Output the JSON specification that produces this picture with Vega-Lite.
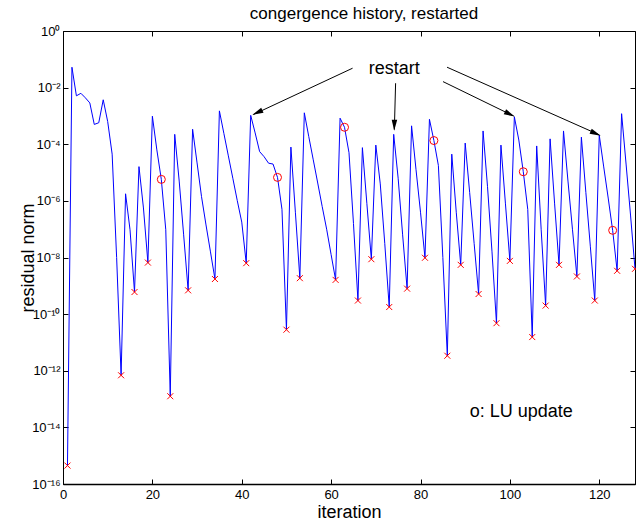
{
  "$schema": "https://vega.github.io/schema/vega-lite/v6.json",
  "width": 572,
  "height": 453,
  "autosize": {"type": "none"},
  "padding": {"left": 63, "top": 31, "right": 1, "bottom": 37},
  "title": {"text": "congergence history, restarted", "fontSize": 17, "fontWeight": "normal", "font": "Liberation Sans", "color": "black", "anchor": "middle", "frame": "group", "baseline": "alphabetic", "offset": 11, "dx": 15, "dy": 22},
  "config": {
    "font": "Liberation Sans",
    "view": {"stroke": "black", "strokeWidth": 1},
    "axis": {"grid": false, "domain": false, "ticks": true, "tickSize": -5, "tickColor": "black", "tickWidth": 1, "labelColor": "black", "labelFontSize": 13, "labelFont": "Liberation Sans", "labelFlush": false, "titleColor": "black", "titleFontWeight": "normal", "titleFontSize": 18, "titleFont": "Liberation Sans"}
  },
  "datasets": {
    "main": [
      {"iter": 1, "residual": 4.47e-16, "marker": "x"},
      {"iter": 2, "residual": 5.25e-2, "marker": ""},
      {"iter": 3, "residual": 5.13e-3, "marker": ""},
      {"iter": 4, "residual": 6.31e-3, "marker": ""},
      {"iter": 5, "residual": 4.37e-3, "marker": ""},
      {"iter": 6, "residual": 2.88e-3, "marker": ""},
      {"iter": 7, "residual": 5.01e-4, "marker": ""},
      {"iter": 8, "residual": 5.75e-4, "marker": ""},
      {"iter": 9, "residual": 3.72e-3, "marker": ""},
      {"iter": 10, "residual": 6.31e-4, "marker": ""},
      {"iter": 11, "residual": 4.47e-5, "marker": ""},
      {"iter": 12, "residual": 1.0e-8, "marker": ""},
      {"iter": 13, "residual": 6.92e-13, "marker": "x"},
      {"iter": 14, "residual": 1.78e-6, "marker": ""},
      {"iter": 15, "residual": 9.55e-8, "marker": ""},
      {"iter": 16, "residual": 6.03e-10, "marker": "x"},
      {"iter": 17, "residual": 1.62e-5, "marker": ""},
      {"iter": 18, "residual": 5.62e-7, "marker": ""},
      {"iter": 19, "residual": 6.61e-9, "marker": "x"},
      {"iter": 20, "residual": 9.77e-4, "marker": ""},
      {"iter": 21, "residual": 6.31e-5, "marker": ""},
      {"iter": 22, "residual": 5.75e-6, "marker": "o"},
      {"iter": 23, "residual": 9.55e-8, "marker": ""},
      {"iter": 24, "residual": 1.26e-13, "marker": "x"},
      {"iter": 25, "residual": 2.24e-4, "marker": ""},
      {"iter": 26, "residual": 5.01e-6, "marker": ""},
      {"iter": 27, "residual": 6.31e-8, "marker": ""},
      {"iter": 28, "residual": 6.92e-10, "marker": "x"},
      {"iter": 29, "residual": 3.39e-4, "marker": ""},
      {"iter": 30, "residual": 2.19e-5, "marker": ""},
      {"iter": 31, "residual": 1.41e-6, "marker": ""},
      {"iter": 32, "residual": 1.41e-7, "marker": ""},
      {"iter": 33, "residual": 1.58e-8, "marker": ""},
      {"iter": 34, "residual": 1.74e-9, "marker": "x"},
      {"iter": 35, "residual": 1.51e-3, "marker": ""},
      {"iter": 36, "residual": 2.40e-4, "marker": ""},
      {"iter": 37, "residual": 3.89e-5, "marker": ""},
      {"iter": 38, "residual": 6.31e-6, "marker": ""},
      {"iter": 39, "residual": 1.02e-6, "marker": ""},
      {"iter": 40, "residual": 1.78e-7, "marker": ""},
      {"iter": 41, "residual": 6.31e-9, "marker": "x"},
      {"iter": 42, "residual": 1.05e-3, "marker": ""},
      {"iter": 43, "residual": 2.51e-4, "marker": ""},
      {"iter": 44, "residual": 5.50e-5, "marker": ""},
      {"iter": 45, "residual": 3.63e-5, "marker": ""},
      {"iter": 46, "residual": 2.14e-5, "marker": ""},
      {"iter": 47, "residual": 2.00e-5, "marker": ""},
      {"iter": 48, "residual": 6.76e-6, "marker": "o"},
      {"iter": 49, "residual": 5.01e-7, "marker": ""},
      {"iter": 50, "residual": 2.82e-11, "marker": "x"},
      {"iter": 51, "residual": 7.94e-5, "marker": ""},
      {"iter": 52, "residual": 3.98e-7, "marker": ""},
      {"iter": 53, "residual": 1.86e-9, "marker": "x"},
      {"iter": 54, "residual": 1.29e-3, "marker": ""},
      {"iter": 55, "residual": 1.86e-4, "marker": ""},
      {"iter": 56, "residual": 2.82e-5, "marker": ""},
      {"iter": 57, "residual": 4.27e-6, "marker": ""},
      {"iter": 58, "residual": 6.31e-7, "marker": ""},
      {"iter": 59, "residual": 1.0e-7, "marker": ""},
      {"iter": 60, "residual": 1.26e-8, "marker": ""},
      {"iter": 61, "residual": 1.62e-9, "marker": "x"},
      {"iter": 62, "residual": 8.32e-4, "marker": ""},
      {"iter": 63, "residual": 3.98e-4, "marker": "o"},
      {"iter": 64, "residual": 5.01e-5, "marker": ""},
      {"iter": 65, "residual": 1.58e-7, "marker": ""},
      {"iter": 66, "residual": 3.02e-10, "marker": "x"},
      {"iter": 67, "residual": 7.59e-5, "marker": ""},
      {"iter": 68, "residual": 7.94e-7, "marker": ""},
      {"iter": 69, "residual": 8.71e-9, "marker": "x"},
      {"iter": 70, "residual": 9.33e-5, "marker": ""},
      {"iter": 71, "residual": 3.98e-6, "marker": ""},
      {"iter": 72, "residual": 3.16e-8, "marker": ""},
      {"iter": 73, "residual": 1.78e-10, "marker": "x"},
      {"iter": 74, "residual": 2.24e-4, "marker": ""},
      {"iter": 75, "residual": 6.31e-6, "marker": ""},
      {"iter": 76, "residual": 6.31e-8, "marker": ""},
      {"iter": 77, "residual": 7.94e-10, "marker": "x"},
      {"iter": 78, "residual": 4.47e-4, "marker": ""},
      {"iter": 79, "residual": 1.26e-5, "marker": ""},
      {"iter": 80, "residual": 3.98e-7, "marker": ""},
      {"iter": 81, "residual": 9.77e-9, "marker": "x"},
      {"iter": 82, "residual": 7.59e-4, "marker": ""},
      {"iter": 83, "residual": 1.35e-4, "marker": "o"},
      {"iter": 84, "residual": 1.78e-5, "marker": ""},
      {"iter": 85, "residual": 1.0e-8, "marker": ""},
      {"iter": 86, "residual": 3.39e-12, "marker": "x"},
      {"iter": 87, "residual": 4.47e-5, "marker": ""},
      {"iter": 88, "residual": 3.98e-7, "marker": ""},
      {"iter": 89, "residual": 5.50e-9, "marker": "x"},
      {"iter": 90, "residual": 1.10e-4, "marker": ""},
      {"iter": 91, "residual": 2.00e-6, "marker": ""},
      {"iter": 92, "residual": 3.16e-8, "marker": ""},
      {"iter": 93, "residual": 5.13e-10, "marker": "x"},
      {"iter": 94, "residual": 2.95e-4, "marker": ""},
      {"iter": 95, "residual": 3.16e-6, "marker": ""},
      {"iter": 96, "residual": 1.58e-8, "marker": ""},
      {"iter": 97, "residual": 4.79e-11, "marker": "x"},
      {"iter": 98, "residual": 9.33e-5, "marker": ""},
      {"iter": 99, "residual": 8.32e-7, "marker": ""},
      {"iter": 100, "residual": 7.59e-9, "marker": "x"},
      {"iter": 101, "residual": 9.33e-4, "marker": ""},
      {"iter": 102, "residual": 1.41e-4, "marker": ""},
      {"iter": 103, "residual": 1.07e-5, "marker": "o"},
      {"iter": 104, "residual": 5.01e-7, "marker": ""},
      {"iter": 105, "residual": 1.55e-11, "marker": "x"},
      {"iter": 106, "residual": 8.71e-5, "marker": ""},
      {"iter": 107, "residual": 1.0e-7, "marker": ""},
      {"iter": 108, "residual": 2.0e-10, "marker": "x"},
      {"iter": 109, "residual": 1.55e-4, "marker": ""},
      {"iter": 110, "residual": 8.32e-7, "marker": ""},
      {"iter": 111, "residual": 5.50e-9, "marker": "x"},
      {"iter": 112, "residual": 2.95e-4, "marker": ""},
      {"iter": 113, "residual": 5.01e-6, "marker": ""},
      {"iter": 114, "residual": 1.0e-7, "marker": ""},
      {"iter": 115, "residual": 2.14e-9, "marker": "x"},
      {"iter": 116, "residual": 1.78e-4, "marker": ""},
      {"iter": 117, "residual": 2.0e-6, "marker": ""},
      {"iter": 118, "residual": 2.51e-8, "marker": ""},
      {"iter": 119, "residual": 3.02e-10, "marker": "x"},
      {"iter": 120, "residual": 2.09e-4, "marker": ""},
      {"iter": 121, "residual": 1.58e-5, "marker": ""},
      {"iter": 122, "residual": 1.26e-6, "marker": ""},
      {"iter": 123, "residual": 9.12e-8, "marker": "o"},
      {"iter": 124, "residual": 3.39e-9, "marker": "x"},
      {"iter": 125, "residual": 1.20e-3, "marker": ""},
      {"iter": 126, "residual": 2.0e-5, "marker": ""},
      {"iter": 127, "residual": 3.16e-7, "marker": ""},
      {"iter": 128, "residual": 3.98e-9, "marker": "x"}
    ],
    "arrows": [
      {"id": 1, "iter": 64.8, "residual": 4.85e-2, "iter2": 42.6, "residual2": 1.12e-3},
      {"id": 2, "iter": 74.43, "residual": 1.43e-2, "iter2": 74.15, "residual2": 3.3e-4},
      {"id": 3, "iter": 85.04, "residual": 1.63e-2, "iter2": 100.8, "residual2": 1.0e-3},
      {"id": 4, "iter": 85.94, "residual": 5.26e-2, "iter2": 120.0, "residual2": 2.15e-4}
    ],
    "heads": [
      {"id": 1, "iter": 43.5, "residual": 1.32e-3},
      {"id": 2, "iter": 74.14, "residual": 4.7e-4},
      {"id": 3, "iter": 100.0, "residual": 1.15e-3},
      {"id": 4, "iter": 119.2, "residual": 2.41e-4}
    ],
    "notes": [
      {"text": "restart", "iter": 68.4, "residual": 3.05e-2},
      {"text": "o: LU update", "iter": 91.0, "residual": 2.37e-14}
    ]
  },
  "layer": [
    {
      "data": {"name": "main"},
      "mark": {"type": "line", "color": "#0000ff", "strokeWidth": 1},
      "encoding": {
        "x": {"field": "iter", "type": "quantitative", "scale": {"domain": [0, 128], "nice": false, "zero": false},
          "axis": {"orient": "bottom", "values": [0, 20, 40, 60, 80, 100, 120], "title": "iteration", "labelPadding": 9, "titleBaseline": "alphabetic", "titleY": 33, "domain": true, "domainColor": "black", "domainWidth": 1.5}},
        "y": {"field": "residual", "type": "quantitative", "scale": {"type": "log", "domain": [1e-16, 1], "nice": false},
          "axis": {"orient": "left", "values": [1e-16, 1e-14, 1e-12, 1e-10, 1e-8, 1e-6, 1e-4, 1e-2, 1],
            "labelExpr": "round(log(datum.value)/LN10)==0?'10⁰':round(log(datum.value)/LN10)==-2?'10⁻²':round(log(datum.value)/LN10)==-4?'10⁻⁴':round(log(datum.value)/LN10)==-6?'10⁻⁶':round(log(datum.value)/LN10)==-8?'10⁻⁸':round(log(datum.value)/LN10)==-10?'10⁻¹⁰':round(log(datum.value)/LN10)==-12?'10⁻¹²':round(log(datum.value)/LN10)==-14?'10⁻¹⁴':'10⁻¹⁶'",
            "labelPadding": 8, "title": "residual norm", "titleX": -30, "titleBaseline": "alphabetic", "titleAngle": -90}}
      }
    },
    {
      "data": {"name": "main"},
      "transform": [{"filter": "datum.marker == 'x'"}],
      "mark": {"type": "point", "shape": "M-1,-1L1,1M-1,1L1,-1", "filled": false, "stroke": "#ff0000", "strokeWidth": 1, "size": 36, "opacity": 1},
      "encoding": {
        "x": {"field": "iter", "type": "quantitative", "scale": {"domain": [0, 128], "nice": false, "zero": false},
          "axis": {"orient": "top", "values": [0, 20, 40, 60, 80, 100, 120], "labels": false, "title": null}},
        "y": {"field": "residual", "type": "quantitative", "scale": {"type": "log", "domain": [1e-16, 1], "nice": false},
          "axis": {"orient": "right", "values": [1e-16, 1e-14, 1e-12, 1e-10, 1e-8, 1e-6, 1e-4, 1e-2, 1], "labels": false, "title": null}}
      }
    },
    {
      "data": {"name": "main"},
      "transform": [{"filter": "datum.marker == 'o'"}],
      "mark": {"type": "point", "shape": "circle", "filled": false, "stroke": "#ff0000", "strokeWidth": 1, "size": 64, "opacity": 1},
      "encoding": {
        "x": {"field": "iter", "type": "quantitative", "axis": null},
        "y": {"field": "residual", "type": "quantitative", "axis": null}
      }
    },
    {
      "data": {"name": "arrows"},
      "mark": {"type": "rule", "color": "black", "strokeWidth": 1},
      "encoding": {
        "x": {"field": "iter", "type": "quantitative", "axis": null},
        "y": {"field": "residual", "type": "quantitative", "axis": null},
        "x2": {"field": "iter2"},
        "y2": {"field": "residual2"}
      }
    },
    {
      "data": {"name": "heads"},
      "transform": [{"filter": "datum.id == 1"}],
      "mark": {"type": "point", "shape": "M0,-1L0.5,1L-0.5,1Z", "filled": true, "color": "black", "size": 121, "angle": 245, "opacity": 1},
      "encoding": {
        "x": {"field": "iter", "type": "quantitative", "axis": null},
        "y": {"field": "residual", "type": "quantitative", "axis": null}
      }
    },
    {
      "data": {"name": "heads"},
      "transform": [{"filter": "datum.id == 2"}],
      "mark": {"type": "point", "shape": "M0,-1L0.5,1L-0.5,1Z", "filled": true, "color": "black", "size": 121, "angle": 181.6, "opacity": 1},
      "encoding": {
        "x": {"field": "iter", "type": "quantitative", "axis": null},
        "y": {"field": "residual", "type": "quantitative", "axis": null}
      }
    },
    {
      "data": {"name": "heads"},
      "transform": [{"filter": "datum.id == 3"}],
      "mark": {"type": "point", "shape": "M0,-1L0.5,1L-0.5,1Z", "filled": true, "color": "black", "size": 121, "angle": 115.9, "opacity": 1},
      "encoding": {
        "x": {"field": "iter", "type": "quantitative", "axis": null},
        "y": {"field": "residual", "type": "quantitative", "axis": null}
      }
    },
    {
      "data": {"name": "heads"},
      "transform": [{"filter": "datum.id == 4"}],
      "mark": {"type": "point", "shape": "M0,-1L0.5,1L-0.5,1Z", "filled": true, "color": "black", "size": 121, "angle": 114, "opacity": 1},
      "encoding": {
        "x": {"field": "iter", "type": "quantitative", "axis": null},
        "y": {"field": "residual", "type": "quantitative", "axis": null}
      }
    },
    {
      "data": {"name": "notes"},
      "mark": {"type": "text", "align": "left", "baseline": "alphabetic", "fontSize": 18, "font": "Liberation Sans", "color": "black"},
      "encoding": {
        "x": {"field": "iter", "type": "quantitative", "axis": null},
        "y": {"field": "residual", "type": "quantitative", "axis": null},
        "text": {"field": "text"}
      }
    }
  ],
  "resolve": {"axis": {"x": "independent", "y": "independent"}}
}
